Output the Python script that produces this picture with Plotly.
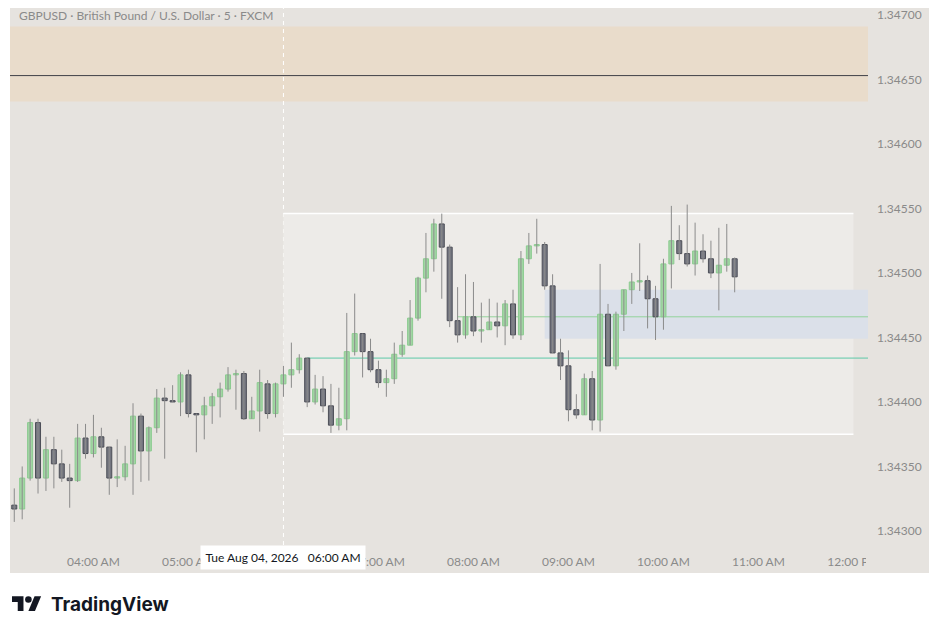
import pandas as pd
import plotly.graph_objects as go

# GBPUSD 5 min candles, 03:10 -> 10:45
times = pd.date_range("2026-08-04 03:10", periods=92, freq="5min")

opens = [1.34320, 1.34317, 1.34341, 1.34384, 1.34341, 1.34363, 1.34352, 1.34341, 1.34339, 1.34372,
         1.34360, 1.34373, 1.34365, 1.34341, 1.34342, 1.34352, 1.34389, 1.34362, 1.34380, 1.34403,
         1.34401, 1.34400, 1.34421, 1.34391, 1.34390, 1.34397, 1.34404, 1.34410, 1.34421, 1.34422,
         1.34387, 1.34393, 1.34414, 1.34391, 1.34414, 1.34421, 1.34425, 1.34434, 1.34400, 1.34410,
         1.34397, 1.34382, 1.34387, 1.34439, 1.34453, 1.34439, 1.34425, 1.34415, 1.34418, 1.34437,
         1.34444, 1.34465, 1.34496, 1.34511, 1.34538, 1.34520, 1.34463, 1.34452, 1.34466, 1.34455,
         1.34456, 1.34462, 1.34459, 1.34476, 1.34452, 1.34511, 1.34521, 1.34522, 1.34490, 1.34438,
         1.34428, 1.34394, 1.34390, 1.34418, 1.34386, 1.34468, 1.34428, 1.34468, 1.34487, 1.34493,
         1.34494, 1.34480, 1.34466, 1.34507, 1.34525, 1.34515, 1.34507, 1.34517, 1.34511, 1.34500,
         1.34506, 1.34511]
highs = [1.34333, 1.34350, 1.34387, 1.34387, 1.34373, 1.34373, 1.34363, 1.34352, 1.34383, 1.34383,
         1.34390, 1.34380, 1.34365, 1.34371, 1.34366, 1.34399, 1.34391, 1.34381, 1.34410, 1.34411,
         1.34413, 1.34423, 1.34425, 1.34391, 1.34404, 1.34407, 1.34415, 1.34427, 1.34425, 1.34424,
         1.34404, 1.34425, 1.34417, 1.34415, 1.34428, 1.34446, 1.34437, 1.34434, 1.34421, 1.34420,
         1.34414, 1.34411, 1.34469, 1.34484, 1.34453, 1.34449, 1.34432, 1.34425, 1.34446, 1.34455,
         1.34479, 1.34497, 1.34531, 1.34542, 1.34546, 1.34522, 1.34489, 1.34499, 1.34493, 1.34477,
         1.34480, 1.34477, 1.34479, 1.34487, 1.34517, 1.34531, 1.34542, 1.34524, 1.34499, 1.34449,
         1.34440, 1.34406, 1.34422, 1.34424, 1.34507, 1.34476, 1.34470, 1.34487, 1.34500, 1.34523,
         1.34498, 1.34490, 1.34511, 1.34552, 1.34537, 1.34553, 1.34539, 1.34530, 1.34525, 1.34535,
         1.34538, 1.34512]
lows = [1.34307, 1.34309, 1.34339, 1.34329, 1.34331, 1.34333, 1.34338, 1.34318, 1.34338, 1.34356,
        1.34357, 1.34349, 1.34328, 1.34334, 1.34339, 1.34328, 1.34338, 1.34339, 1.34376, 1.34356,
        1.34400, 1.34389, 1.34388, 1.34361, 1.34371, 1.34383, 1.34388, 1.34408, 1.34394, 1.34386,
        1.34387, 1.34377, 1.34387, 1.34388, 1.34404, 1.34411, 1.34422, 1.34396, 1.34398, 1.34392,
        1.34376, 1.34378, 1.34378, 1.34436, 1.34419, 1.34423, 1.34411, 1.34404, 1.34414, 1.34435,
        1.34444, 1.34463, 1.34485, 1.34501, 1.34480, 1.34458, 1.34446, 1.34449, 1.34451, 1.34446,
        1.34456, 1.34450, 1.34444, 1.34449, 1.34448, 1.34507, 1.34515, 1.34487, 1.34438, 1.34417,
        1.34385, 1.34387, 1.34390, 1.34378, 1.34377, 1.34428, 1.34425, 1.34455, 1.34476, 1.34486,
        1.34457, 1.34448, 1.34456, 1.34488, 1.34510, 1.34505, 1.34498, 1.34508, 1.34496, 1.34471,
        1.34501, 1.34485]
closes = [1.34317, 1.34341, 1.34384, 1.34341, 1.34363, 1.34352, 1.34341, 1.34339, 1.34372, 1.34360,
          1.34373, 1.34365, 1.34341, 1.34342, 1.34352, 1.34389, 1.34362, 1.34380, 1.34403, 1.34401,
          1.34400, 1.34421, 1.34391, 1.34390, 1.34397, 1.34404, 1.34410, 1.34421, 1.34422, 1.34387,
          1.34393, 1.34415, 1.34391, 1.34414, 1.34421, 1.34425, 1.34434, 1.34400, 1.34410, 1.34397,
          1.34382, 1.34387, 1.34439, 1.34453, 1.34439, 1.34425, 1.34415, 1.34418, 1.34437, 1.34444,
          1.34465, 1.34496, 1.34511, 1.34538, 1.34520, 1.34463, 1.34452, 1.34466, 1.34455, 1.34456,
          1.34462, 1.34459, 1.34476, 1.34452, 1.34511, 1.34521, 1.34522, 1.34490, 1.34438, 1.34428,
          1.34394, 1.34390, 1.34418, 1.34386, 1.34468, 1.34428, 1.34468, 1.34487, 1.34493, 1.34494,
          1.34480, 1.34466, 1.34507, 1.34525, 1.34515, 1.34507, 1.34517, 1.34511, 1.34500, 1.34506,
          1.34511, 1.34497]

# drawings
supply_zone = (1.34633, 1.34691)
supply_mid = 1.34653
session_box = ("2026-08-04 06:00", "2026-08-04 12:00", 1.34375, 1.34546)
fvg_zone = ("2026-08-04 08:45", 1.34449, 1.34487)
green_level = ("2026-08-04 07:50", 1.34466)
teal_level = ("2026-08-04 06:15", 1.34434)
cursor_time = "2026-08-04 06:00"

price_ticks = [1.34300, 1.34350, 1.34400, 1.34450, 1.34500, 1.34550, 1.34600, 1.34650, 1.34700]
time_ticks = ["04:00", "05:00", "06:00", "07:00", "08:00", "09:00", "10:00", "11:00", "12:00"]
time_labels = ["04:00 AM", "05:00 AM", "06:00 AM", "07:00 AM", "08:00 AM", "09:00 AM",
               "10:00 AM", "11:00 AM", "12:00 PM"]

x_range = ["2026-08-04 03:07:18", "2026-08-04 12:09:12"]
y_range = [1.342891, 1.347054]

BG = "#e6e3df"
FONT = "Lato, 'Noto Sans', sans-serif"

# page pixel -> paper coords (page has an 8px body margin; plot area x 10..868, y 8..545)
def px(X):
    return (X - 10) / 858.0

def py(Y):
    return (545 - Y) / 537.0

fig = go.Figure()

# wicks
wx, wy = [], []
for t, h, l in zip(times, highs, lows):
    wx += [t, t, None]
    wy += [l, h, None]
fig.add_trace(go.Scatter(x=wx, y=wy, mode="lines", line=dict(color="#8b8b8b", width=1),
                         hoverinfo="skip"))

# bodies
up = [i for i in range(len(times)) if closes[i] >= opens[i]]
dn = [i for i in range(len(times)) if closes[i] < opens[i]]
for idx, fill, edge in [(up, "#a2d6a4", "#8ccb90"), (dn, "#757781", "#4c4e57")]:
    fig.add_trace(go.Bar(
        x=[times[i] for i in idx],
        y=[closes[i] - opens[i] for i in idx],
        base=[opens[i] for i in idx],
        width=190000,
        marker=dict(color=fill, line=dict(color=edge, width=1)),
        hoverinfo="skip"))

shapes = [
    dict(type="rect", xref="paper", yref="paper", x0=0, x1=px(929), y0=py(573), y1=1,
         fillcolor=BG, line_width=0, layer="below"),
    dict(type="rect", xref="paper", yref="y", x0=0, x1=1, y0=supply_zone[0], y1=supply_zone[1],
         fillcolor="#e9dccb", line_width=0, layer="below"),
    dict(type="line", xref="paper", yref="y", x0=0, x1=1, y0=supply_mid, y1=supply_mid,
         line=dict(color="#3f4048", width=1), layer="below"),
    dict(type="rect", xref="x", yref="y", x0=session_box[0], x1=session_box[1],
         y0=session_box[2], y1=session_box[3], fillcolor="#edebe8", line_width=0, layer="below"),
    dict(type="line", xref="x", yref="y", x0=session_box[0], x1=session_box[1],
         y0=session_box[3], y1=session_box[3], line=dict(color="#ffffff", width=1.5), layer="below"),
    dict(type="line", xref="x", yref="y", x0=session_box[0], x1=session_box[1],
         y0=session_box[2], y1=session_box[2], line=dict(color="#ffffff", width=1.5), layer="below"),
    dict(type="rect", xref="x", yref="y", x0=fvg_zone[0], x1=x_range[1],
         y0=fvg_zone[1], y1=fvg_zone[2], fillcolor="#dbe0e9", line_width=0, layer="below"),
    dict(type="line", xref="x", yref="y", x0=green_level[0], x1=x_range[1],
         y0=green_level[1], y1=green_level[1], line=dict(color="#93d39b", width=1), layer="below"),
    dict(type="line", xref="x", yref="y", x0=teal_level[0], x1=x_range[1],
         y0=teal_level[1], y1=teal_level[1], line=dict(color="#5dc8a8", width=1), layer="below"),
    dict(type="line", xref="x", yref="paper", x0=cursor_time, x1=cursor_time, y0=0, y1=1,
         line=dict(color="#ffffff", width=1, dash="4px,4px"), layer="below"),
    # clip of the last time label at the price scale edge
    dict(type="rect", xref="paper", yref="paper", x0=px(866), x1=px(929), y0=py(573), y1=0,
         fillcolor=BG, line_width=0, layer="above"),
]

# TradingView logo glyph
s = 0.82
def lp(u, v):
    return "%.5f,%.5f" % (px(12 + u * s), py(593 + v * s))
logo_t = "M" + " L".join(lp(u, v) for u, v in [(14, 22), (7, 22), (7, 11), (0, 11), (0, 4), (14, 4)]) + " Z"
logo_s = "M" + " L".join(lp(u, v) for u, v in [(28, 22), (20, 22), (27.5, 4), (35.5, 4)]) + " Z"
shapes += [
    dict(type="path", xref="paper", yref="paper", path=logo_t, fillcolor="#131722", line_width=0),
    dict(type="path", xref="paper", yref="paper", path=logo_s, fillcolor="#131722", line_width=0),
    dict(type="circle", xref="paper", yref="paper", x0=px(12 + 16 * s), x1=px(12 + 24 * s),
         y0=py(593 + 12 * s), y1=py(593 + 4 * s), fillcolor="#131722", line_width=0),
]

annotations = [
    dict(text="GBPUSD · British Pound / U.S. Dollar · 5 · FXCM", xref="paper", yref="paper",
         x=px(17), y=py(16), xanchor="left", yanchor="middle", showarrow=False,
         font=dict(family=FONT, size=12, color="#8a8a8a")),
    dict(text="Tue Aug 04, 2026\u00a0\u00a0\u00a006:00 AM", xref="x", yref="paper",
         x=cursor_time, y=py(557.5), xanchor="center", yanchor="middle", showarrow=False,
         bgcolor="#ffffff", width=160, height=19, borderpad=2,
         font=dict(family=FONT, size=12, color="#131722")),
    dict(text="<b>TradingView</b>", xref="paper", yref="paper", x=px(49), y=py(604),
         xanchor="left", yanchor="middle", showarrow=False,
         font=dict(family="Inter, Lato, sans-serif", size=19, color="#131722")),
]

fig.update_layout(
    width=931, height=626,
    margin=dict(l=2, r=71, t=0, b=89),
    paper_bgcolor="#ffffff", plot_bgcolor=BG,
    showlegend=False, barmode="overlay", hovermode=False,
    shapes=shapes, annotations=annotations,
    font=dict(family=FONT),
)
fig.update_xaxes(type="date", range=x_range, showgrid=False, zeroline=False, showline=False,
                 tickvals=["2026-08-04 " + t for t in time_ticks], ticktext=time_labels,
                 ticks="", ticklabelstandoff=8, tickfont=dict(size=12, color="#8a8a8a"))
fig.update_yaxes(range=y_range, side="right", showgrid=False, zeroline=False, showline=False,
                 tickvals=price_ticks, ticktext=["%.5f" % p for p in price_ticks],
                 ticks="", ticklabelstandoff=8, ticklabeloverflow="allow",
                 tickfont=dict(size=12, color="#8a8a8a"))

fig.write_html("out.html")
